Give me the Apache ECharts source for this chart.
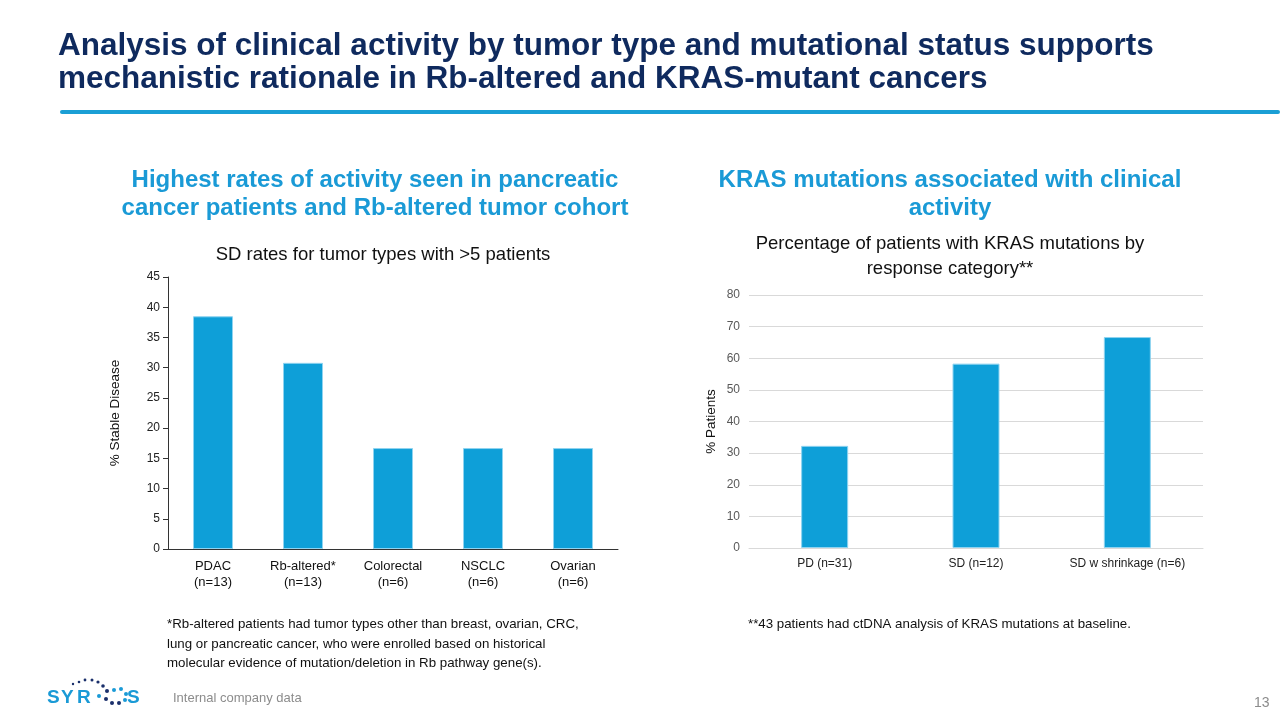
<!DOCTYPE html>
<html><head><meta charset="utf-8">
<script src="https://cdn.jsdelivr.net/npm/echarts@6/dist/echarts.min.js"></script>
<style>html,body{margin:0;padding:0;background:#fff}#c{width:1280px;height:720px}</style>
</head><body><div id="c"></div>
<script>
const tumorCategories = ['PDAC\n(n=13)', 'Rb-altered*\n(n=13)', 'Colorectal\n(n=6)', 'NSCLC\n(n=6)', 'Ovarian\n(n=6)'];
const sdRates = [38.5, 30.8, 16.7, 16.7, 16.7];
const responseCategories = ['PD (n=31)', 'SD (n=12)', 'SD w shrinkage (n=6)'];
const krasPct = [32.3, 58.3, 66.7];

const F = 'Liberation Sans, Arial, sans-serif';
const BLUE = '#0E9FD8';
const chart = echarts.init(document.getElementById('c'));

const logoDots = [
  [73,684,1.2,'#1a2f6b'],[79,682,1.3,'#1a2f6b'],[85,680,1.4,'#1a2f6b'],[92,680,1.5,'#1a2f6b'],[98,682,1.6,'#1a2f6b'],
  [103,686,1.8,'#1a2f6b'],[107,691,2,'#1a2f6b'],[114,690,2,'#1a9ad6'],[121,689,2,'#1a9ad6'],
  [126,694,2,'#1a9ad6'],[99,696,2,'#1a9ad6'],[125,700,2,'#1a9ad6'],[106,699,2,'#1a2f6b'],[112,703,2,'#1a2f6b'],[119,703,2,'#1a2f6b']
];
const logoLetters = [['S',47],['Y',61],['R',77],['S',127]];

const T = (o) => Object.assign({ padding: 0 }, o);

chart.setOption({
  animation: false,
  textStyle: { fontFamily: F },
  title: [
    T({ text: 'Analysis of clinical activity by tumor type and mutational status supports\nmechanistic rationale in Rb-altered and KRAS-mutant cancers',
      left: 58, top: 30, textStyle: { fontFamily: F, fontSize: 31.5, fontWeight: 'bold', color: '#0f2a5e', lineHeight: 33 } }),
    T({ text: 'Highest rates of activity seen in pancreatic\ncancer patients and Rb-altered tumor cohort',
      left: 375, top: 167, textAlign: 'center', textStyle: { fontFamily: F, fontSize: 24, fontWeight: 'bold', color: '#1a9ad6', lineHeight: 27.5 } }),
    T({ text: 'KRAS mutations associated with clinical\nactivity',
      left: 950, top: 167, textAlign: 'center', textStyle: { fontFamily: F, fontSize: 24, fontWeight: 'bold', color: '#1a9ad6', lineHeight: 27.5 } }),
    T({ text: 'SD rates for tumor types with >5 patients',
      left: 383, top: 245, textAlign: 'center', textStyle: { fontFamily: F, fontSize: 18.5, fontWeight: 'normal', color: '#111' } }),
    T({ text: 'Percentage of patients with KRAS mutations by\nresponse category**',
      left: 950, top: 231, textAlign: 'center', textStyle: { fontFamily: F, fontSize: 18.5, fontWeight: 'normal', color: '#111', lineHeight: 25 } }),
    T({ text: '*Rb-altered patients had tumor types other than breast, ovarian, CRC,\nlung or pancreatic cancer, who were enrolled based on historical\nmolecular evidence of mutation/deletion in Rb pathway gene(s).',
      left: 167, top: 615, textStyle: { fontFamily: F, fontSize: 13.3, fontWeight: 'normal', color: '#111', lineHeight: 19.5 } }),
    T({ text: '**43 patients had ctDNA analysis of KRAS mutations at baseline.',
      left: 748, top: 618, textStyle: { fontFamily: F, fontSize: 13.3, fontWeight: 'normal', color: '#111' } }),
    T({ text: 'Internal company data', left: 173, top: 692,
      textStyle: { fontFamily: F, fontSize: 13, fontWeight: 'normal', color: '#8c8c8c' } }),
    T({ text: '13', left: 1254, top: 696,
      textStyle: { fontFamily: F, fontSize: 14, fontWeight: 'normal', color: '#8c8c8c' } })
  ],
  graphic: [
    { type: 'rect', shape: { x: 60, y: 110, width: 1220, height: 4, r: 2 }, style: { fill: '#1a9fd5' } },
    ...logoLetters.map(l => ({ type: 'text', left: l[1], top: 688, style: { text: l[0], font: 'bold 19px ' + F, fill: '#1a9ad6' } })),
    ...logoDots.map(d => ({ type: 'circle', shape: { cx: d[0], cy: d[1], r: d[2] }, style: { fill: d[3] } }))
  ],
  grid: [
    { left: 168, top: 277, width: 450, height: 272 },
    { left: 749, top: 295, width: 454, height: 253 }
  ],
  xAxis: [
    { gridIndex: 0, type: 'category', data: tumorCategories,
      axisLine: { lineStyle: { color: '#333', width: 1 } }, axisTick: { show: false },
      axisLabel: { color: '#111', fontSize: 13, lineHeight: 16, margin: 9, fontFamily: F } },
    { gridIndex: 1, type: 'category', data: responseCategories,
      axisLine: { show: true, lineStyle: { color: '#d9d9d9' } }, axisTick: { show: false },
      axisLabel: { color: '#222', fontSize: 12, margin: 10, fontFamily: F } }
  ],
  yAxis: [
    { gridIndex: 0, type: 'value', min: 0, max: 45, interval: 5,
      name: '% Stable Disease', nameLocation: 'middle', nameGap: 46,
      nameTextStyle: { color: '#111', fontSize: 13.5, fontFamily: F },
      axisLine: { show: true, lineStyle: { color: '#333', width: 1 } },
      axisTick: { show: true, length: 5, lineStyle: { color: '#333' } },
      axisLabel: { color: '#222', fontSize: 12, margin: 8, fontFamily: F },
      splitLine: { show: false } },
    { gridIndex: 1, type: 'value', min: 0, max: 80, interval: 10,
      name: '% Patients', nameLocation: 'middle', nameGap: 31,
      nameTextStyle: { color: '#111', fontSize: 13.5, fontFamily: F },
      axisLine: { show: false }, axisTick: { show: false },
      axisLabel: { color: '#595959', fontSize: 12, margin: 9, fontFamily: F },
      splitLine: { show: true, lineStyle: { color: '#d9d9d9', width: 1 } } }
  ],
  series: [
    { type: 'bar', xAxisIndex: 0, yAxisIndex: 0, data: sdRates, barWidth: 40,
      itemStyle: { color: BLUE, borderColor: '#8fd3f0', borderWidth: 1 } },
    { type: 'bar', xAxisIndex: 1, yAxisIndex: 1, data: krasPct, barWidth: 47,
      itemStyle: { color: BLUE, borderColor: '#8fd3f0', borderWidth: 1 } }
  ]
});
</script></body></html>
